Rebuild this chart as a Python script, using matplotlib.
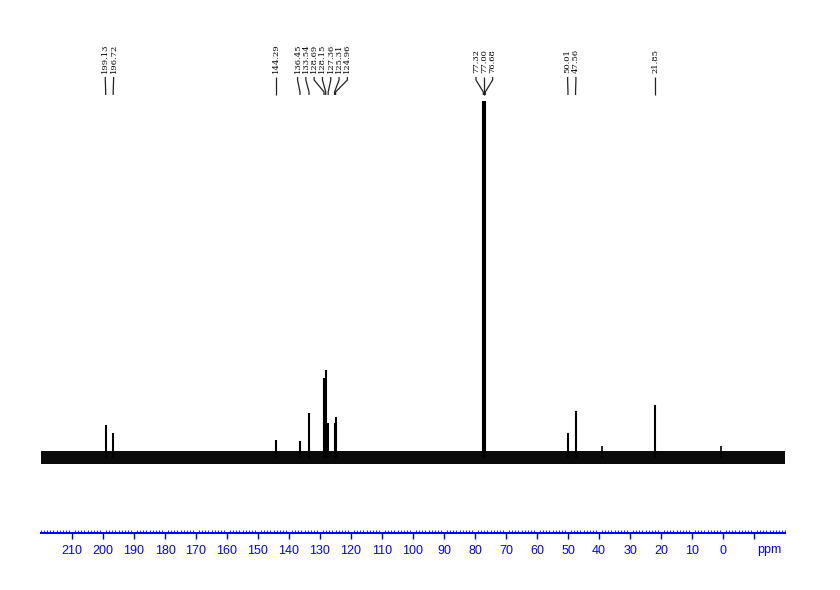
import matplotlib
matplotlib.use("Agg")
import matplotlib.pyplot as plt
import numpy as np

# ---- data ----
peak_ppm = [199.13, 196.72, 144.29, 136.45, 133.54, 128.69, 128.15, 127.36,
            125.31, 124.96, 77.32, 77.00, 76.68, 50.01, 47.56, 21.85]
peak_height = [33, 25, 18, 17, 45, 80, 88, 35, 35, 41, 357, 357, 357, 25, 47, 53]
extra_ppm = [39.0, 0.8]          # small unlabeled peaks
extra_height = [12, 12]
noise_low, noise_high = -6, 7    # baseline noise band
tick_values = [210, 200, 190, 180, 170, 160, 150, 140, 130, 120, 110, 100,
               90, 80, 70, 60, 50, 40, 30, 20, 10, 0, -10]
tick_labels = [str(v) for v in tick_values[:-1]] + [""]
x_left, x_right = 220, -20

fig = plt.figure(figsize=(8.4, 5.9), dpi=100)
ax = fig.add_axes([41/840, (590-533)/590, 744/840, 493/590])
ax.set_xlim(x_left, x_right)
ax.set_ylim(-75, 418)

# noise band
ax.fill_between([x_left, x_right], noise_low, noise_high, color="#0a0a0a", lw=0)

# peaks
ax.vlines(peak_ppm, 0, peak_height, color="black", lw=1.5)
ax.vlines(extra_ppm, 0, extra_height, color="black", lw=1.2)

# peak labels with connectors: spread overlapping labels evenly
ppm_per_px = (x_left - x_right) / 744.0
spacing = 8.3 * ppm_per_px
order = sorted(range(len(peak_ppm)), key=lambda i: -peak_ppm[i])
clusters = [[i] for i in order]

def centers(cl):
    mean = np.mean([peak_ppm[i] for i in cl])
    n = len(cl)
    return [mean + (n - 1) / 2 * spacing - k * spacing for k in range(n)]

changed = True
while changed:
    changed = False
    for c in range(len(clusters) - 1):
        a, b = centers(clusters[c]), centers(clusters[c + 1])
        if a[-1] - b[0] < spacing - 1e-9:
            clusters[c] = clusters[c] + clusters[c + 1]
            del clusters[c + 1]
            changed = True
            break

label_x = {}
for cl in clusters:
    for i, x in zip(cl, centers(cl)):
        label_x[i] = x

for i, p in enumerate(peak_ppm):
    tx = label_x[i]
    ax.text(tx, 385, f"{p:.2f}", rotation=90, ha="center", va="bottom",
            fontsize=6, family="DejaVu Serif", color="black")
    ax.plot([tx, tx, p, p], [381, 378, 366, 363], color="#222222", lw=0.9,
            solid_capstyle="butt")

# axis styling
for s in ["top", "left", "right"]:
    ax.spines[s].set_visible(False)
ax.spines["bottom"].set_color("#0000ff")
ax.spines["bottom"].set_linewidth(1.5)
ax.set_yticks([])
ax.set_xticks(tick_values)
ax.set_xticklabels(tick_labels)
ax.set_xticks(np.arange(x_right, x_left + 1, 1), minor=True)
ax.tick_params(axis="x", which="major", direction="out", length=4, width=1,
               color="#0000ff", labelcolor="#0000ff", labelsize=9, pad=5)
ax.tick_params(axis="x", which="minor", direction="in", length=2.5, width=0.6,
               color="#0000ff")
for lbl in ax.get_xticklabels():
    lbl.set_family("Liberation Sans")
ax.text(-15, -75, "ppm", ha="center", va="top",
        color="#0000ff", fontsize=9, family="Liberation Sans")
ax.texts[-1].set_position((-15, -75 - 11))

fig.savefig("out.png", dpi=100)
